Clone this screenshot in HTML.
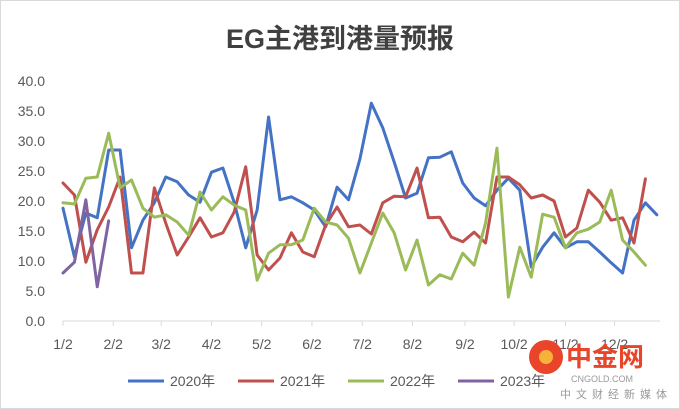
<!DOCTYPE html>
<html><head><meta charset="utf-8"><style>
body{margin:0;background:#fff;}
svg{display:block;font-family:"Liberation Sans","Noto Sans CJK SC",sans-serif;}
</style></head><body>
<svg width="680" height="409" viewBox="0 0 680 409">
<rect x="0.5" y="0.5" width="679" height="408" fill="#fff" stroke="#d9d9d9"/>
<text x="340" y="48" text-anchor="middle" font-size="27" font-weight="bold" fill="#404040">EG主港到港量预报</text>
<g id="axes"></g>
<g id="series"></g>
<g id="legend"></g>
<g>
<circle cx="546" cy="357" r="17" fill="#e8452b"/>
<circle cx="546" cy="357" r="7" fill="#f7b23b"/>
<text x="566" y="366" font-size="26" font-weight="bold" fill="#e8452b">中金网</text>
<text x="571" y="382" font-size="9" fill="#999">CNGOLD.COM</text>
<text x="560" y="398" font-size="11" fill="#999" letter-spacing="5">中文财经新媒体</text>
</g>
</svg>
<script>
const yTicks=[0,5,10,15,20,25,30,35,40];
const monthLabels=["1/2","2/2","3/2","4/2","5/2","6/2","7/2","8/2","9/2","10/2","11/2","12/2"];
const monthWeek=[0,4.4,8.6,13,17.4,21.8,26.2,30.6,35.2,39.5,44,48.3];
const seriesNames=["2020年","2021年","2022年","2023年"];
const s2020=[18.8,10.7,18,17.2,28.5,28.5,12.2,16.8,19.7,24,23.2,21,19.8,24.8,25.5,19.7,12.2,18.5,34,20.2,20.7,19.7,18.5,15.7,22.3,20.2,27,36.3,32.2,26.5,20.5,21.3,27.2,27.3,28.2,23,20.5,19.2,21.8,23.8,21.8,9,12.3,14.7,12.2,13.2,13.2,11.5,9.7,8,16.8,19.7,17.7];
const s2021=[23,21,9.8,15.2,19,24,8,8,22.2,16.3,11,14,17.2,14,14.7,18.2,25.7,11,8.5,10.5,14.7,11.5,10.7,16,19,15.7,16,14.5,19.7,20.8,20.7,25.5,17.2,17.3,14,13.2,14.8,13,24,24,22.7,20.5,21,20,14,15.5,21.8,19.8,16.8,17.2,13,23.7];
const s2022=[19.7,19.5,23.8,24,31.3,22.2,23.5,18.8,17.3,17.7,16.5,14.3,21.5,18.5,20.7,19.3,18.5,6.8,11.3,12.7,12.7,13.5,18.8,16.5,16,13.8,8,13,18,14.7,8.5,13.5,6,7.7,7,11.3,9.3,16.3,28.8,4,12.3,7.3,17.8,17.3,12.2,14.7,15.3,16.5,21.8,13.5,11.5,9.3];
const s2023=[8,9.8,20.2,5.7,16.7];
const colors=["#4472c4","#c0504d","#9bbb59","#8064a2"];
const allSeries=[s2020,s2021,s2022,s2023];
const NS="http://www.w3.org/2000/svg";
const x0=63,xStep=11.42,y0=321,yMax=40,yTop=81;
const X=i=>x0+i*xStep;
const Y=v=>y0-(v/yMax)*(y0-yTop);
function mk(t,a,p){const e=document.createElementNS(NS,t);for(const k in a)e.setAttribute(k,a[k]);p.appendChild(e);return e;}
const axes=document.getElementById('axes');
yTicks.forEach(v=>{
 const t=mk('text',{x:45,y:Y(v)+5,'text-anchor':'end','font-size':14,fill:'#595959'},axes);
 
 
 t.textContent=v.toFixed(1);
});
const ax=mk('line',{x1:x0,x2:660,y1:y0,y2:y0,stroke:'#d9d9d9','stroke-width':1},axes);


monthLabels.forEach((m,i)=>{
 const x=X(monthWeek[i]);
 const tk=mk('line',{x1:x,x2:x,y1:y0,y2:y0+5,stroke:'#d9d9d9'},axes);
 
 
 const t=mk('text',{x:x,y:349,'text-anchor':'middle','font-size':14,fill:'#595959'},axes);
 
 
 t.textContent=m;
});
const sg=document.getElementById('series');
allSeries.forEach((s,k)=>{
 const p=mk('polyline',{points:s.map((v,i)=>X(i)+','+Y(v)).join(' '),fill:'none',stroke:colors[k],'stroke-width':3,'stroke-linejoin':'round','stroke-linecap':'round'},sg);
 
 
});
const lg=document.getElementById('legend');
const lx=[128,238,348,458];
seriesNames.forEach((n,k)=>{
 const g=mk('g',{},lg);
 
 
 mk('line',{x1:lx[k],x2:lx[k]+36,y1:381,y2:381,stroke:colors[k],'stroke-width':3},g);
 const t=mk('text',{x:lx[k]+42,y:386,'font-size':14,fill:'#595959'},g);
 t.textContent=n;
});
</script>
</body></html>
